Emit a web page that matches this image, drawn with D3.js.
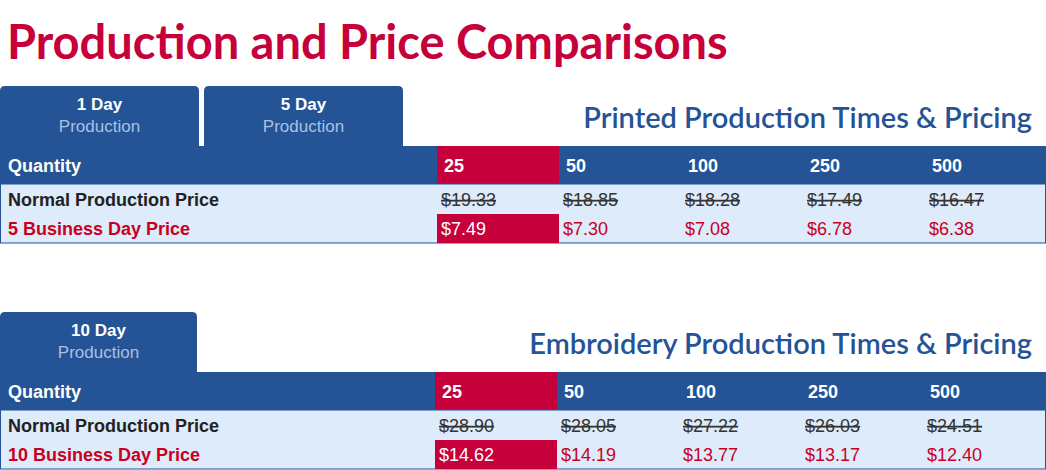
<!DOCTYPE html>
<html><head><meta charset="utf-8">
<script src="https://cdn.jsdelivr.net/npm/d3@7"></script>
<style>body{margin:0;background:#fff}</style>
</head><body>
<svg id="c" width="1046" height="470"></svg>
<script>
const quantities = ["25", "50", "100", "250", "500"];
const printedNormal = ["$19.33", "$18.85", "$18.28", "$17.49", "$16.47"];
const printedRush = ["$7.49", "$7.30", "$7.08", "$6.78", "$6.38"];
const embNormal = ["$28.90", "$28.05", "$27.22", "$26.03", "$24.51"];
const embRush = ["$14.62", "$14.19", "$13.77", "$13.17", "$12.40"];
const printedTabs = [["1 Day", "Production"], ["5 Day", "Production"]];
const embTabs = [["10 Day", "Production"]];

const BLUE = "#245396", RED = "#c5003b", LIGHT = "#deebfa", TXTRED = "#c8001e";
const svg = d3.select("#c");
const sans = "'Liberation Sans', Arial, sans-serif";

svg.append("text").attr("x", 7).attr("y", 59)
  .attr("font-family", "Lato, sans-serif").attr("font-weight", 700).attr("font-size", 47)
  .attr("fill", RED).text("Production and Price Comparisons");

function tabPath(x, y, w, h, r){
  return `M${x},${y+h}V${y+r}Q${x},${y} ${x+r},${y}H${x+w-r}Q${x+w},${y} ${x+w},${y+r}V${y+h}Z`;
}

function block({top, tabs, tabW, title, colX, normal, rush, rushLabel}){
  const g = svg.append("g");
  tabs.forEach((t, i) => {
    const x = i * (tabW + 5);
    g.append("path").attr("d", tabPath(x, top, tabW, 61, 5)).attr("fill", BLUE);
    g.append("text").attr("x", x + tabW/2).attr("y", top + 24).attr("text-anchor", "middle")
      .attr("font-family", sans).attr("font-weight", 700).attr("font-size", 17).attr("fill", "#fff").text(t[0]);
    g.append("text").attr("x", x + tabW/2).attr("y", top + 46).attr("text-anchor", "middle")
      .attr("font-family", sans).attr("font-size", 17).attr("fill", "#a9c1e3").text(t[1]);
  });
  g.append("text").attr("x", 1032).attr("y", top + 42).attr("text-anchor", "end")
    .attr("font-family", "Lato, sans-serif").attr("font-weight", 600).attr("font-size", 29)
    .attr("fill", BLUE).text(title);

  const hy = top + 60, hh = 38, by = hy + hh;
  const x = d3.scaleBand().domain(quantities).range([colX, colX + 122 * 5]);
  g.append("rect").attr("x", 0).attr("y", hy).attr("width", 1046).attr("height", hh).attr("fill", BLUE);
  g.append("rect").attr("x", x("25")).attr("y", hy).attr("width", x.bandwidth()).attr("height", hh).attr("fill", RED);
  g.append("rect").attr("x", 0.5).attr("y", by).attr("width", 1045).attr("height", 59)
    .attr("fill", LIGHT).attr("stroke", BLUE).attr("stroke-width", 1);
  g.append("rect").attr("x", x("25")).attr("y", by + 30).attr("width", x.bandwidth()).attr("height", 29).attr("fill", RED);

  const txt = (tx, ty, s, o) => g.append("text").attr("x", tx).attr("y", ty)
    .attr("font-family", sans).attr("font-size", 18).attr("font-weight", o.bold ? 700 : 400)
    .attr("fill", o.fill).attr("text-decoration", o.strike ? "line-through" : null).text(s);

  txt(8, hy + 26, "Quantity", {bold: true, fill: "#fff"});
  txt(8, by + 22, "Normal Production Price", {bold: true, fill: "#222"});
  txt(8, by + 51, rushLabel, {bold: true, fill: TXTRED});
  quantities.forEach((q, i) => {
    txt(x(q) + 7, hy + 26, q, {bold: true, fill: "#fff"});
    txt(x(q) + 4, by + 22, normal[i], {fill: "#333", strike: true});
    txt(x(q) + 4, by + 51, rush[i], {fill: i === 0 ? "#fff" : TXTRED});
  });
}

block({top: 86, tabs: printedTabs, tabW: 199, title: "Printed Production Times & Pricing",
  colX: 437, normal: printedNormal, rush: printedRush, rushLabel: "5 Business Day Price"});
block({top: 312, tabs: embTabs, tabW: 197, title: "Embroidery Production Times & Pricing",
  colX: 435, normal: embNormal, rush: embRush, rushLabel: "10 Business Day Price"});
</script>
</body></html>
